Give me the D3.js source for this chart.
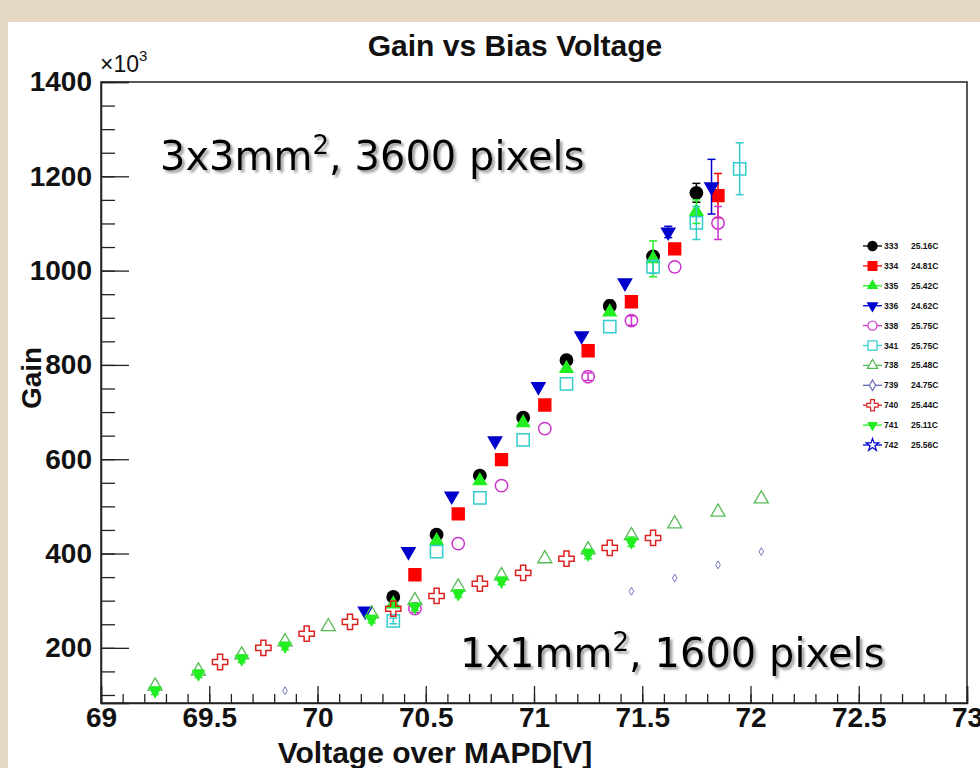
<!DOCTYPE html>
<html>
<head>
<meta charset="utf-8">
<script src="https://cdn.jsdelivr.net/npm/d3@7"></script>
<style>
  body { margin: 0; background: #e6d9c3; }
  svg { display: block; }
  .tick text { font-family: "Liberation Sans", Arial, sans-serif; font-weight: bold; font-size: 28px; fill: #111; }
</style>
</head>
<body>
<svg id="chart" width="980" height="768"></svg>
<script>
// ---- data (voltage in V, gain in 10^3) ----
const xMajor = [69, 69.5, 70, 70.5, 71, 71.5, 72, 72.5, 73];
const yMajor = [200, 400, 600, 800, 1000, 1200, 1400];

const v333 = [70.35, 70.55, 70.75, 70.95, 71.15, 71.35, 71.55, 71.75];
const g333 = [308, 440, 565, 688, 810, 925, 1030, 1165];
const e333 = [8, 0, 5, 0, 6, 12, 8, 20];

const v334 = [70.45, 70.65, 70.85, 71.05, 71.25, 71.45, 71.65, 71.85];
const g334 = [355, 484, 599, 715, 830, 934, 1046, 1159];
const e334 = [0, 0, 0, 0, 8, 8, 8, 47];

const v335 = [70.35, 70.55, 70.75, 70.95, 71.15, 71.35, 71.55, 71.75];
const g335 = [293, 427, 554, 677, 792, 912, 1025, 1125];
const e335 = [0, 0, 0, 0, 0, 0, 38, 25];

const v336 = [70.22, 70.42, 70.62, 70.82, 71.02, 71.22, 71.42, 71.62, 71.82];
const g336 = [278, 404, 522, 639, 754, 862, 974, 1082, 1178];
const e336 = [0, 0, 0, 0, 0, 0, 0, 12, 58];

const v338 = [70.45, 70.65, 70.85, 71.05, 71.25, 71.45, 71.65, 71.85];
const g338 = [283, 421, 544, 665, 775, 894, 1008, 1101];
const e338 = [8, 0, 0, 0, 8, 10, 0, 35];

const v341 = [70.35, 70.55, 70.75, 70.95, 71.15, 71.35, 71.55, 71.75, 71.95];
const g341 = [257, 404, 518, 641, 760, 881, 1008, 1101, 1216];
const e341 = [6, 0, 0, 0, 0, 0, 14, 35, 55];

const v738 = [69.25, 69.45, 69.65, 69.85, 70.05, 70.25, 70.45, 70.65, 70.85, 71.05, 71.25, 71.45, 71.65, 71.85, 72.05];
const g738 = [119, 151, 185, 213, 245, 272, 300, 329, 353, 389, 408, 438, 463, 488, 516];

const v739 = [69.85, 71.45, 71.65, 71.85, 72.05];
const g739 = [109, 320, 348, 376, 404];

const v740 = [69.55, 69.75, 69.95, 70.15, 70.35, 70.55, 70.75, 70.95, 71.15, 71.35, 71.55];
const g740 = [170, 200, 230, 255, 283, 310, 336, 359, 389, 412, 433];

const v741 = [69.25, 69.45, 69.65, 69.85, 70.25, 70.45, 70.65, 70.85, 71.25, 71.45];
const g741 = [109, 145, 177, 204, 261, 287, 315, 342, 399, 425];
const e741 = [8, 8, 8, 8, 8, 8, 8, 8, 10, 10];

const v742 = [];
const g742 = [];

const labels = ["333", "334", "335", "336", "338", "341", "738", "739", "740", "741", "742"];
const temps = ["25.16C", "24.81C", "25.42C", "24.62C", "25.75C", "25.75C", "25.48C", "24.75C", "25.44C", "25.11C", "25.56C"];

// series table: data + how each one is drawn
const series = [
  {v: v333, g: g333, e: e333, sym: d3.symbolCircle, size: 120, fill: "#000", stroke: "#000", rot: 0, w: 1.5},
  {v: v334, g: g334, e: e334, sym: d3.symbolSquare, size: 140, fill: "#f00", stroke: "#f00", rot: 0, w: 1.5},
  {v: v335, g: g335, e: e335, sym: d3.symbolTriangle, size: 70, fill: "#22ee22", stroke: "#22ee22", rot: 0, w: 1.5},
  {v: v336, g: g336, e: e336, sym: d3.symbolTriangle, size: 75, fill: "#0000cc", stroke: "#0000cc", rot: 180, w: 1.5},
  {v: v338, g: g338, e: e338, sym: d3.symbolCircle, size: 120, fill: "none", stroke: "#cc33cc", rot: 0, w: 1.5},
  {v: v341, g: g341, e: e341, sym: d3.symbolSquare, size: 150, fill: "none", stroke: "#33cccc", rot: 0, w: 1.5},
  {v: v738, g: g738, e: null, sym: d3.symbolTriangle, size: 85, fill: "none", stroke: "#55bb55", rot: 0, w: 1.3},
  {v: v739, g: g739, e: null, sym: d3.symbolDiamond, size: 18, fill: "none", stroke: "#6666bb", rot: 0, w: 0.9},
  {v: v740, g: g740, e: null, sym: d3.symbolCross, size: 130, fill: "none", stroke: "#dd2222", rot: 0, w: 1.5},
  {v: v741, g: g741, e: e741, sym: d3.symbolTriangle, size: 55, fill: "#22ee22", stroke: "#22ee22", rot: 180, w: 1.5},
  {v: v742, g: g742, e: null, sym: d3.symbolStar, size: 90, fill: "none", stroke: "#0000cc", rot: 0, w: 1.3}
];

const svg = d3.select("#chart");

const defs = svg.append("defs");
defs.append("filter").attr("id", "shadow").attr("x", "-5%").attr("y", "-20%").attr("width", "115%").attr("height", "150%")
  .append("feDropShadow").attr("dx", 2.5).attr("dy", 2.5).attr("stdDeviation", 0.8)
  .attr("flood-color", "#888").attr("flood-opacity", 0.8);

// white canvas on the beige slide
svg.append("rect").attr("x", 8).attr("y", 22).attr("width", 972).attr("height", 746).attr("fill", "#fff");

const x = d3.scaleLinear().domain([69, 73]).range([101, 967]);
const y = d3.scaleLinear().domain([83, 1400]).range([703, 82]);

// frame
svg.append("rect")
  .attr("x", x(69)).attr("y", y(1400))
  .attr("width", x(73) - x(69)).attr("height", y(83) - y(1400))
  .attr("fill", "none").attr("stroke", "#222").attr("stroke-width", 1.5);

// x axis: minor then major
const xMinor = d3.range(69, 73.001, 0.1).map(d => +d.toFixed(1));
svg.append("g").attr("transform", `translate(0,${y(83)})`)
  .call(d3.axisBottom(x).tickValues(xMinor).tickSize(-9).tickFormat(""))
  .call(g => g.select(".domain").remove());
svg.append("g").attr("transform", `translate(0,${y(83)})`)
  .call(d3.axisBottom(x).tickValues(xMajor).tickSize(-17).tickPadding(4).tickFormat(d => String(d)))
  .call(g => g.select(".domain").attr("stroke", "#222").attr("stroke-width", 1.5));

// y axis
const yMinor = d3.range(100, 1401, 50);
svg.append("g").attr("transform", `translate(${x(69)},0)`)
  .call(d3.axisLeft(y).tickValues(yMinor).tickSize(-14).tickFormat(""))
  .call(g => g.select(".domain").remove());
svg.append("g").attr("transform", `translate(${x(69)},0)`)
  .call(d3.axisLeft(y).tickValues(yMajor).tickSize(-28).tickPadding(9).tickFormat(d => String(d)))
  .call(g => g.select(".domain").attr("stroke", "#222").attr("stroke-width", 1.5));

svg.selectAll(".tick line").attr("stroke", "#222").attr("stroke-width", 1.3);

// x10^3 exponent
const ex = svg.append("text").attr("x", 100).attr("y", 72)
  .attr("font-family", "Liberation Sans, Arial, sans-serif").attr("font-size", 23).attr("fill", "#111")
  .text("\u00d710");
ex.append("tspan").attr("dy", -11).attr("font-size", 15).text("3");

// titles
svg.append("text").attr("x", 515).attr("y", 56).attr("text-anchor", "middle")
  .attr("font-family", "Liberation Sans, Arial, sans-serif").attr("font-weight", "bold")
  .attr("font-size", 30).attr("fill", "#111").text("Gain vs Bias Voltage");
svg.append("text").attr("x", 435).attr("y", 763).attr("text-anchor", "middle")
  .attr("font-family", "Liberation Sans, Arial, sans-serif").attr("font-weight", "bold")
  .attr("font-size", 30).attr("fill", "#111").text("Voltage over MAPD[V]");
svg.append("text").attr("transform", "translate(41,378) rotate(-90)").attr("text-anchor", "middle")
  .attr("font-family", "Liberation Sans, Arial, sans-serif").attr("font-weight", "bold")
  .attr("font-size", 28).attr("fill", "#111").text("Gain");

// data marks
series.forEach(s => {
  const pts = s.v.map((v, i) => ({v: v, g: s.g[i], e: s.e ? s.e[i] : 0}));
  const grp = svg.append("g");
  const bars = pts.filter(p => p.e > 0);
  grp.selectAll("line.bar").data(bars).enter().append("line")
    .attr("x1", p => x(p.v)).attr("x2", p => x(p.v))
    .attr("y1", p => y(p.g + p.e)).attr("y2", p => y(p.g - p.e))
    .attr("stroke", s.stroke).attr("stroke-width", 1.5);
  [1, -1].forEach(sg => {
    grp.selectAll(null).data(bars).enter().append("line")
      .attr("x1", p => x(p.v) - 4).attr("x2", p => x(p.v) + 4)
      .attr("y1", p => y(p.g + sg * p.e)).attr("y2", p => y(p.g + sg * p.e))
      .attr("stroke", s.stroke).attr("stroke-width", 1.5);
  });
  grp.selectAll("path").data(pts).enter().append("path")
    .attr("d", d3.symbol(s.sym, s.size))
    .attr("transform", p => `translate(${x(p.v)},${y(p.g)}) rotate(${s.rot})`)
    .attr("fill", s.fill)
    .attr("stroke", s.stroke).attr("stroke-width", s.w);
});

// legend
const leg = svg.append("g").attr("font-family", "Liberation Sans, Arial, sans-serif")
  .attr("font-weight", "bold").attr("font-size", 8.5).attr("fill", "#111");
series.forEach((s, i) => {
  const ly = 246 + i * 19.9;
  leg.append("line").attr("x1", 863).attr("x2", 882).attr("y1", ly).attr("y2", ly)
    .attr("stroke", s.stroke).attr("stroke-width", 1.3);
  leg.append("path").attr("d", d3.symbol(s.sym, Math.max(s.size, 60) * 0.55))
    .attr("transform", `translate(872.5,${ly}) rotate(${s.rot})`)
    .attr("fill", s.fill === "none" ? "#fff" : s.fill)
    .attr("stroke", s.stroke).attr("stroke-width", 1.2);
  leg.append("text").attr("x", 884).attr("y", ly + 3).text(labels[i]);
  leg.append("text").attr("x", 911).attr("y", ly + 3).text(temps[i]);
});

// annotations with soft shadow
function note(tx, ty, pre, post) {
  const t = svg.append("text").attr("x", tx).attr("y", ty)
    .attr("font-family", "Comic Sans MS, DejaVu Sans, sans-serif")
    .attr("font-size", 40).attr("fill", "#000").attr("filter", "url(#shadow)");
  t.append("tspan").text(pre);
  t.append("tspan").attr("dy", -16).attr("font-size", 26).text("2");
  t.append("tspan").attr("dy", 16).text(post);
}
note(160, 170, "3x3mm", ", 3600 pixels");
note(460, 667, "1x1mm", ", 1600 pixels");
</script>
</body>
</html>
